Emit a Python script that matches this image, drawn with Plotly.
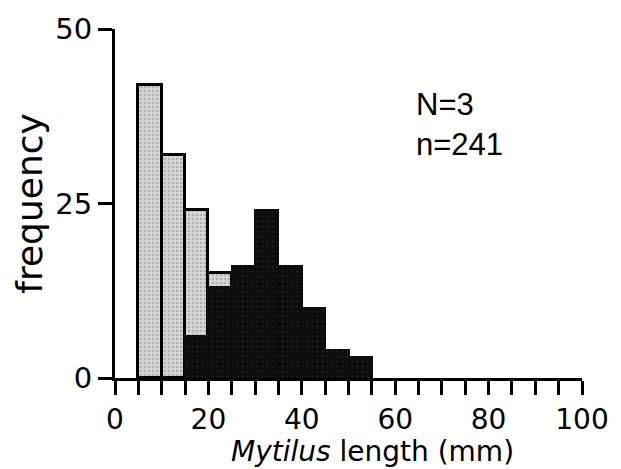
import plotly.graph_objects as go

# Length-frequency data, 5 mm size classes (lower edge of each class, mm)
bin_width = 5
light_bins = [5, 10, 15, 20]
light_counts = [42, 32, 24, 15]
dark_bins = [15, 20, 25, 30, 35, 40, 45, 50]
dark_counts = [6, 13, 16, 24, 16, 10, 4, 3]

x_ticks = [0, 20, 40, 60, 80, 100]
y_ticks = [0, 25, 50]
sample_text = ["N=3", "n=241"]

FONT = "DejaVu Sans"
NOTE_FONT = "Liberation Sans"


def centers(edges):
    return [e + bin_width / 2 for e in edges]


fig = go.Figure()

fig.add_trace(go.Bar(
    x=centers(light_bins), y=light_counts, width=bin_width,
    marker=dict(
        color="#d9d9d9",
        line=dict(color="black", width=3),
        pattern=dict(shape=".", fillmode="overlay", bgcolor="#d6d6d6",
                     fgcolor="#8a8a8a", size=4, solidity=0.35),
    ),
    showlegend=False,
))

fig.add_trace(go.Bar(
    x=centers(dark_bins), y=dark_counts, width=bin_width,
    marker=dict(
        color="#0c0c0c",
        line=dict(color="#0c0c0c", width=2),
        pattern=dict(shape=".", fillmode="overlay", bgcolor="#0c0c0c",
                     fgcolor="#3a3a3a", size=5, solidity=0.15),
    ),
    showlegend=False,
))

# sample size note
fig.add_annotation(
    x=64, y=42, xref="x", yref="y",
    text="<br>".join(sample_text), showarrow=False,
    xanchor="left", yanchor="top", align="left",
    font=dict(family=NOTE_FONT, size=31, color="black"),
)

# x-axis title, set slightly right of centre
fig.add_annotation(
    x=55.1, y=0, xref="x", yref="paper",
    text="<i>Mytilus</i> length (mm)", showarrow=False,
    xanchor="center", yanchor="middle", yshift=-73,
    font=dict(family=FONT, size=28, color="black"),
)

fig.update_layout(
    width=621, height=469,
    margin=dict(l=115, r=36, t=25, b=91),
    paper_bgcolor="white", plot_bgcolor="white",
    barmode="overlay", bargap=0,
    font=dict(family=FONT, color="black"),
)

fig.update_xaxes(
    range=[0, 100], tickvals=x_ticks,
    showline=True, linecolor="black", linewidth=3,
    ticks="outside", ticklen=14, tickwidth=3, tickcolor="black",
    minor=dict(dtick=5, ticks="outside", ticklen=14, tickwidth=3, tickcolor="black"),
    showgrid=False, zeroline=False,
    tickfont=dict(family=FONT, size=28),
)

fig.update_yaxes(
    range=[0, 50], tickvals=y_ticks,
    showline=True, linecolor="black", linewidth=3,
    ticks="outside", ticklen=14, tickwidth=3, tickcolor="black",
    showgrid=False, zeroline=False,
    tickfont=dict(family=FONT, size=29),
    title=dict(text="frequency", font=dict(family=FONT, size=36), standoff=2),
)

fig.write_html("out.html")
